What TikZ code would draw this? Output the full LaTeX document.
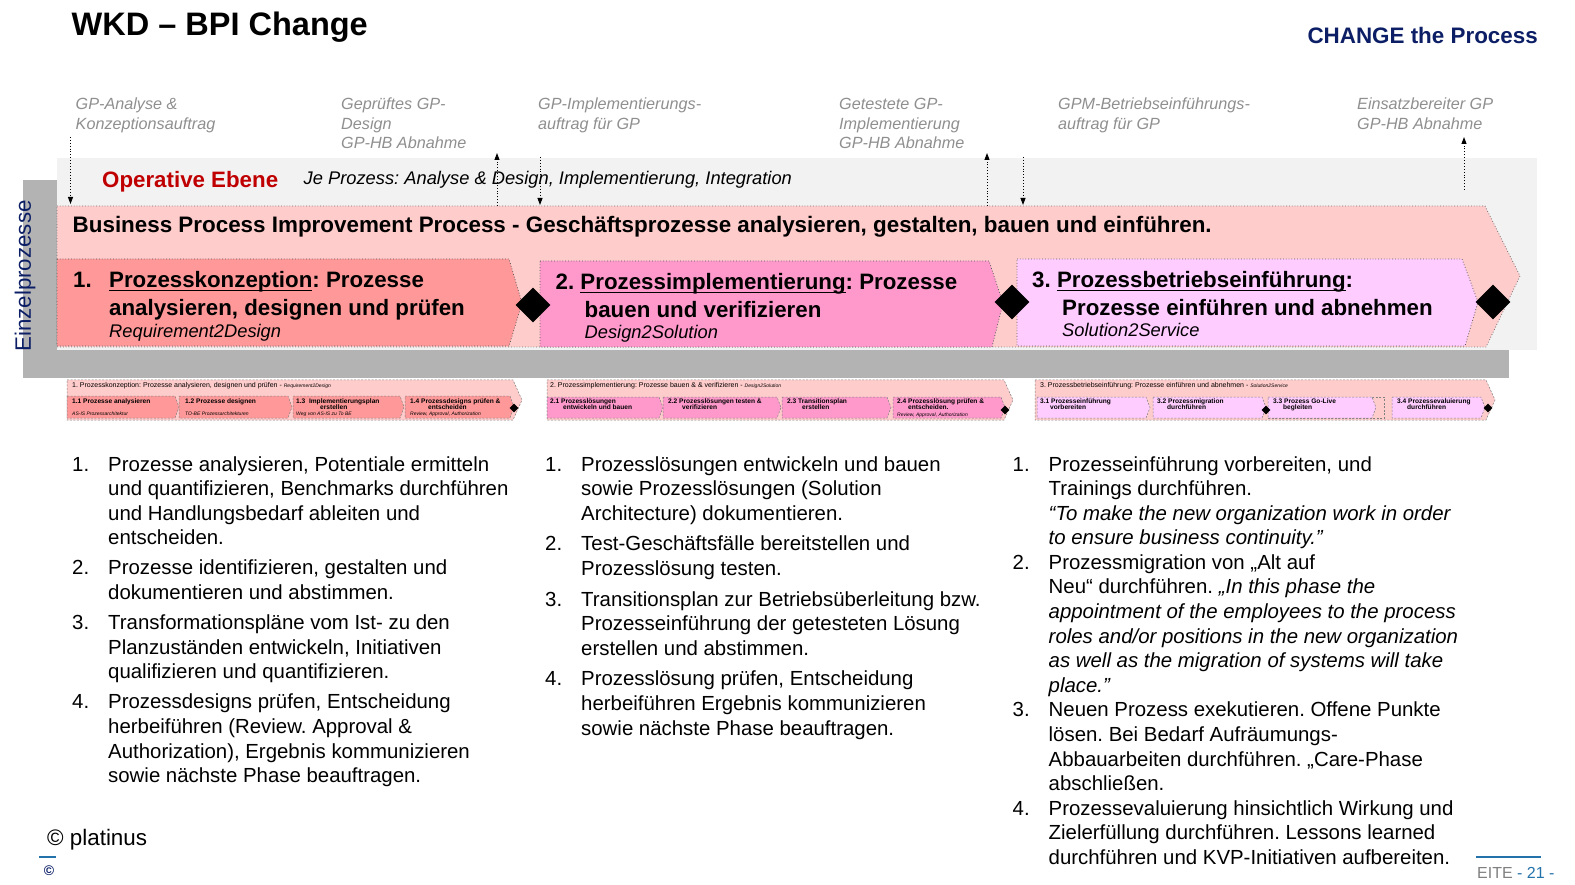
\documentclass[tikz,border=0pt]{standalone}
\usepackage{fontspec}
\setmainfont{Liberation Sans}
\usetikzlibrary{arrows.meta, positioning, shapes.geometric}
\frenchspacing

\definecolor{bandgray}{HTML}{F2F2F2}
\definecolor{framegray}{HTML}{B3B3B3}
\definecolor{bpipink}{HTML}{FFCCCC}
\definecolor{phaseone}{HTML}{FF9999}
\definecolor{phasetwo}{HTML}{FF99CC}
\definecolor{phasethree}{HTML}{FFCCFF}
\definecolor{opred}{HTML}{C00000}
\definecolor{navy}{HTML}{0C1F66}
\definecolor{milegray}{HTML}{8F8F8F}
\definecolor{footblue}{HTML}{2472AA}

\newcommand{\setfs}[2]{\fontsize{#1}{#2}\selectfont}
\newcommand{\textlines}[1]{\begin{tabular}[t]{@{}l@{}}#1\end{tabular}}
\newcommand{\phaseul}[1]{\setbox0\hbox{#1}\rlap{\rule[-3pt]{\wd0}{1.3pt}}\box0}

\tikzset{
  milestone/.style={anchor=base west, text=milegray, font=\setfs{16.2}{19.4}\itshape},
  milearrow/.style={-{Triangle[length=7pt, width=5pt]}, dotted, line width=0.9pt, draw=black},
  bpibox/.style={fill=bpipink, draw=black!55, dotted, line width=0.8pt},
  phasebox/.style={draw=black!65, dotted, line width=0.8pt},
  phasetext/.style={anchor=base west, font=\setfs{22.3}{27.5}\bfseries},
  phasesub/.style={anchor=base west, font=\setfs{18.3}{22}\itshape},
  handover/.style={diamond, fill=black, minimum width=#1, minimum height=#1, inner sep=0pt},
  handover/.default=35pt,
  thumbbox/.style={draw=black!50, dash pattern=on 2pt off 1.5pt, line width=0.5pt},
  thumbhead/.style={anchor=base west, font=\setfs{7}{8}},
  thumblabel/.style={anchor=base west, font=\setfs{6.6}{6.8}\bfseries},
  thumbsub/.style={anchor=base west, font=\setfs{5}{6}\itshape},
  listtext/.style={anchor=base west, font=\setfs{20.4}{24.6}}
}

\begin{document}
\begin{tikzpicture}[x=1pt, y=-1pt, every node/.style={inner sep=0pt}]
  \useasboundingbox (0,0) rectangle (1575,885);

  % heading
  \node[anchor=base west, font=\setfs{32.5}{38}\bfseries] (title) at (71.5,36) {WKD – BPI Change};
  \node[anchor=base east, font=\setfs{22.4}{26}\bfseries, text=navy] (claim) at (1538,43.5) {CHANGE the Process};

  % milestones
  \node[milestone] (ms1) at (75.5,110) {\textlines{GP-Analyse \&\\Konzeptionsauftrag}};
  \node[milestone] (ms2) at (341,110) {\textlines{Geprüftes GP-\\Design\\GP-HB Abnahme}};
  \node[milestone] (ms3) at (538,110) {\textlines{GP-Implementierungs-\\auftrag für GP}};
  \node[milestone] (ms4) at (839,110) {\textlines{Getestete GP-\\Implementierung\\GP-HB Abnahme}};
  \node[milestone] (ms5) at (1058,110) {\textlines{GPM-Betriebseinführungs-\\auftrag für GP}};
  \node[milestone] (ms6) at (1357,110) {\textlines{Einsatzbereiter GP\\GP-HB Abnahme}};

  % levels
  \fill[framegray] (23,180) rectangle (57,378);
  \fill[framegray] (23,350) rectangle (1509,378);
  \fill[bandgray] (57,158) rectangle (1537,350);
  \node[rotate=90, font=\setfs{22.3}{26}, text=navy] (einzel) at (25,276) {Einzelprozesse};
  \node[anchor=base west, font=\setfs{22.3}{26}\bfseries, text=opred] (operativ) at (102,188) {Operative Ebene};
  \node[anchor=base west, font=\setfs{18.3}{22}\itshape] (jeproz) at (303.5,185)
    {Je Prozess: Analyse \& Design, Implementierung, Integration};

  % main process and phases
  \draw[bpibox] (57,206) -- (1485,206) -- (1520,276) -- (1486,347) -- (57,347) -- cycle;
  \node[anchor=base west, font=\setfs{22.4}{26}\bfseries] (bpi) at (72.5,233)
    {Business Process Improvement Process - Geschäftsprozesse analysieren, gestalten, bauen und einführen.};

  \draw[phasebox, fill=phaseone] (57,259) -- (509,259) -- (522,303) -- (509,346) -- (57,346) -- cycle;
  \draw[phasebox, fill=phasetwo] (540,261) -- (989,261) -- (1003,303) -- (992,347) -- (540,347) -- cycle;
  \draw[phasebox, fill=phasethree] (1017,259) -- (1462,259) -- (1478,302) -- (1465,346) -- (1017,346) -- cycle;

  \node[handover] (h1) at (533,305) {};
  \node[handover] (h2) at (1012,302) {};
  \node[handover] (h3) at (1493,302) {};

  \node[phasetext] (p1) at (73,288)
    {\begin{tabular}[t]{@{}p{36pt}@{}l@{}}1. & \phaseul{Prozesskonzeption}: Prozesse\\ & analysieren, designen und prüfen\end{tabular}};
  \node[phasesub] (p1sub) at (109,338) {Requirement2Design};
  \node[phasetext] (p2) at (555.5,290)
    {\textlines{2. \phaseul{Prozessimplementierung}: Prozesse\\\hspace{29pt}bauen und verifizieren}};
  \node[phasesub] (p2sub) at (584.5,339) {Design2Solution};
  \node[phasetext] (p3) at (1032,288)
    {\textlines{3. \phaseul{Prozessbetriebseinführung}:\\\hspace{30pt}Prozesse einführen und abnehmen}};
  \node[phasesub] (p3sub) at (1062,337) {Solution2Service};

  % milestone connectors
  \coordinate (a1s) at (70.5,137);   \coordinate (a1e) at (70.5,204);
  \coordinate (a2s) at (497,206);    \coordinate (a2e) at (497,153);
  \coordinate (a3s) at (540,157);    \coordinate (a3e) at (540,205);
  \coordinate (a4s) at (987,206);    \coordinate (a4e) at (987,153);
  \coordinate (a5s) at (1023,157);   \coordinate (a5e) at (1023,205);
  \coordinate (a6s) at (1464,190);   \coordinate (a6e) at (1464,137);
  \foreach \n in {1,...,6}
    \draw[milearrow] (a\n s) -- (a\n e);

  % phase thumbnails
  \draw[thumbbox, fill=bpipink] (67,380) -- (513,380) -- (522,400) -- (513,420) -- (67,420) -- cycle;
  \draw[thumbbox, fill=bpipink] (547,380) -- (1004,380) -- (1013,400) -- (1004,420) -- (547,420) -- cycle;
  \draw[thumbbox, fill=bpipink] (1035,380) -- (1486,380) -- (1495,400) -- (1486,420) -- (1035,420) -- cycle;
  \draw[thumbbox] (1268,397) rectangle (1384,418);

  \foreach \xa/\xb in {67/175, 179/288, 293/400, 405/510}
    \draw[thumbbox, fill=phaseone] (\xa,396) -- (\xb,396) -- (\xb+4,407) -- (\xb,418) -- (\xa,418) -- cycle;
  \foreach \xa/\xb in {547/659, 663/777, 782/887, 893/1001}
    \draw[thumbbox, fill=phasetwo] (\xa,397) -- (\xb,397) -- (\xb+4,407.5) -- (\xb,418) -- (\xa,418) -- cycle;
  \foreach \xa/\xb in {1037/1146, 1153/1262, 1268/1372, 1392/1481}
    \draw[thumbbox, fill=phasethree] (\xa,397) -- (\xb,397) -- (\xb+4,407.5) -- (\xb,418) -- (\xa,418) -- cycle;

  \foreach \n/\x/\y in {1/514/408, 2/1005/410, 3/1266/410, 4/1488/408}
    \node[handover=9pt] (th\n) at (\x,\y) {};

  \node[thumbhead] (head1) at (72,388)
    {1. Prozesskonzeption: Prozesse analysieren, designen und prüfen - {\setfs{5}{6}\itshape Requirement2Design}};
  \node[thumbhead] (head2) at (550,388)
    {2. Prozessimplementierung: Prozesse bauen \& \& verifizieren - {\setfs{5}{6}\itshape Design2Solution}};
  \node[thumbhead] (head3) at (1040,388)
    {3. Prozessbetriebseinführung: Prozesse einführen und abnehmen - {\setfs{5}{6}\itshape Solution2Service}};

  \foreach \x/\lab in {72/{1.1 Prozesse analysieren}, 185/{1.2 Prozesse designen},
      296/{1.3\ \ Implementierungsplan\\\hspace{24pt}erstellen},
      410/{1.4 Prozessdesigns prüfen \&\\\hspace{18pt}entscheiden},
      550/{2.1 Prozesslösungen\\\hspace{13pt}entwickeln und bauen},
      668/{2.2 Prozesslösungen testen \&\\\hspace{14pt}verifizieren},
      787/{2.3 Transitionsplan\\\hspace{15pt}erstellen},
      897/{2.4 Prozesslösung prüfen \&\\\hspace{11pt}entscheiden.},
      1040/{3.1 Prozesseinführung\\\hspace{10pt}vorbereiten},
      1157/{3.2 Prozessmigration\\\hspace{10pt}durchführen},
      1273/{3.3 Prozess Go-Live\\\hspace{10pt}begleiten},
      1397/{3.4 Prozessevaluierung\\\hspace{10pt}durchführen}}
    \node[thumblabel] (lab\x) at (\x,403) {\textlines{\lab}};

  \node[thumbsub] (sub11) at (72,415) {AS-IS Prozessarchitektur};
  \node[thumbsub] (sub12) at (185,415) {TO-BE Prozessarchitekturen};
  \node[thumbsub] (sub13) at (296,415.5) {Weg von AS-IS zu To BE};
  \node[thumbsub] (sub14) at (410,415.5) {Review, Approval, Authorization};
  \node[thumbsub] (sub24) at (897,416.5) {Review, Approval, Authorization};

  % step descriptions
  \node[listtext] (list1) at (72,471) {\begin{tabular}[t]{@{}p{36pt}@{}l@{}}
    1. & Prozesse analysieren, Potentiale ermitteln\\
       & und quantifizieren, Benchmarks durchführen\\
       & und Handlungsbedarf ableiten und\\
       & entscheiden.\\[5.5pt]
    2. & Prozesse identifizieren, gestalten und\\
       & dokumentieren und abstimmen.\\[5.5pt]
    3. & Transformationspläne vom Ist- zu den\\
       & Planzuständen entwickeln, Initiativen\\
       & qualifizieren und quantifizieren.\\[5.5pt]
    4. & Prozessdesigns prüfen, Entscheidung\\
       & herbeiführen (Review. Approval \&\\
       & Authorization), Ergebnis kommunizieren\\
       & sowie nächste Phase beauftragen.
  \end{tabular}};
  \node[listtext] (list2) at (545,471) {\begin{tabular}[t]{@{}p{36pt}@{}l@{}}
    1. & Prozesslösungen entwickeln und bauen\\
       & sowie Prozesslösungen (Solution\\
       & Architecture) dokumentieren.\\[6pt]
    2. & Test-Geschäftsfälle bereitstellen und\\
       & Prozesslösung testen.\\[6pt]
    3. & Transitionsplan zur Betriebsüberleitung bzw.\\
       & Prozesseinführung der getesteten Lösung\\
       & erstellen und abstimmen.\\[6pt]
    4. & Prozesslösung prüfen, Entscheidung\\
       & herbeiführen Ergebnis kommunizieren\\
       & sowie nächste Phase beauftragen.
  \end{tabular}};
  \node[listtext] (list3) at (1012.5,471) {\begin{tabular}[t]{@{}p{36pt}@{}l@{}}
    1. & Prozesseinführung vorbereiten, und\\
       & Trainings durchführen.\\
       & \textit{“To make the new organization work in order}\\
       & \textit{to ensure business continuity.”}\\
    2. & Prozessmigration von „Alt auf\\
       & Neu“ durchführen. \textit{„In this phase the}\\
       & \textit{appointment of the employees to the process}\\
       & \textit{roles and/or positions in the new organization}\\
       & \textit{as well as the migration of systems will take}\\
       & \textit{place.”}\\
    3. & Neuen Prozess exekutieren. Offene Punkte\\
       & lösen. Bei Bedarf Aufräumungs-\\
       & Abbauarbeiten durchführen. „Care-Phase\\
       & abschließen.\\
    4. & Prozessevaluierung hinsichtlich Wirkung und\\
       & Zielerfüllung durchführen. Lessons learned\\
       & durchführen und KVP-Initiativen aufbereiten.
  \end{tabular}};

  % footer
  \node[anchor=base west, font=\setfs{22.4}{26}] (copyright) at (47,845) {© platinus};
  \draw[footblue, line width=1.5pt] (39,857) -- (56,857);
  \node[font=\setfs{14}{16}\bfseries, text=navy] (copymark) at (49,871) {©};
  \draw[footblue, line width=1.5pt] (1476,857) -- (1541,857);
  \node[anchor=base west, font=\setfs{16}{18}] (page) at (1477,878)
    {\textcolor{gray}{EITE} \textcolor{footblue}{- 21 -}};
\end{tikzpicture}
\end{document}
